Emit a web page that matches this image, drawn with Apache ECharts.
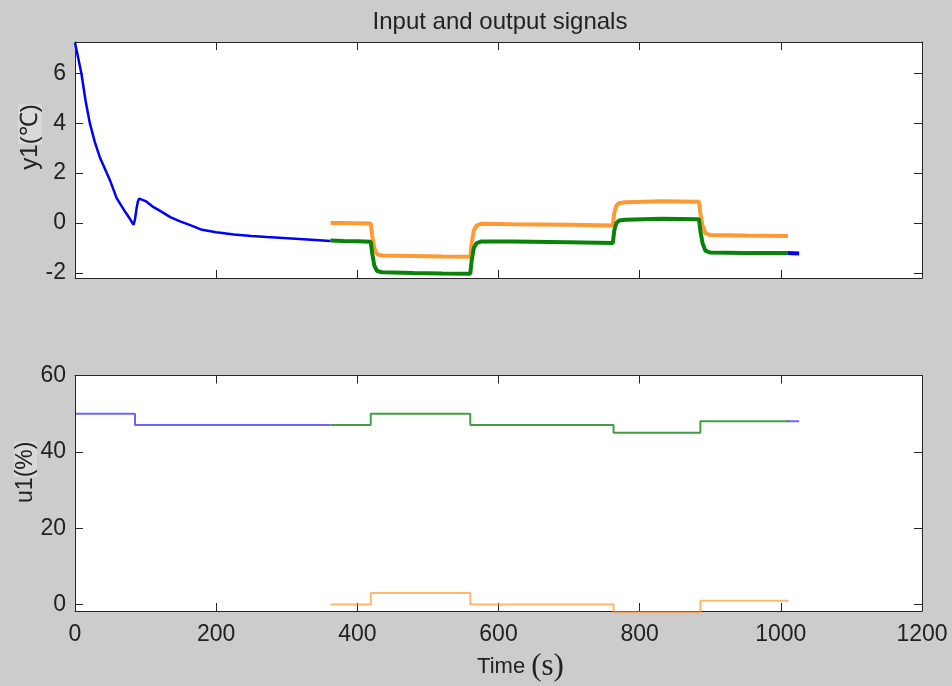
<!DOCTYPE html>
<html>
<head>
<meta charset="utf-8">
<script src="https://cdn.jsdelivr.net/npm/echarts@6/dist/echarts.min.js"></script>
<style>
html,body{margin:0;padding:0;background:#cccccc;}
#chart{width:952px;height:686px;}
</style>
</head>
<body>
<div id="chart"></div>
<script>
// ---- data ----
const xTicks = [0, 200, 400, 600, 800, 1000, 1200];
const yTopTicks = [-2, 0, 2, 4, 6];
const yBottomTicks = [0, 20, 40, 60];

// top panel: y1 (°C)
const topTimeBlue = [0, 5, 9, 15, 21, 28, 35, 45, 50, 59, 70, 78, 83, 85, 87, 89, 91, 93, 100, 110, 120, 135, 148, 165, 180, 200, 225, 250, 272, 295, 318, 340, 362];
const topBlue =     [7.22, 6.55, 6.0, 4.9, 4.0, 3.25, 2.65, 2.0, 1.68, 1.0, 0.5, 0.16, -0.07, 0.15, 0.55, 0.85, 0.98, 1.04, 0.88, 0.66, 0.5, 0.24, 0.08, -0.1, -0.27, -0.37, -0.46, -0.52, -0.56, -0.6, -0.64, -0.68, -0.72];
const topTimeRun = [362, 380, 400, 419, 421, 424, 428, 435, 480, 520, 560, 562, 565, 569, 575, 620, 700, 762, 764, 767, 771, 780, 830, 884, 886, 889, 893, 900, 950, 1010];
const topGreen =   [-0.7, -0.72, -0.73, -0.75, -1.2, -1.7, -1.92, -1.97, -2.0, -2.02, -2.03, -1.5, -1.0, -0.8, -0.74, -0.74, -0.77, -0.8, -0.3, 0.0, 0.1, 0.13, 0.17, 0.15, -0.3, -0.8, -1.1, -1.18, -1.2, -1.2];
const topOrange =  [0.0, 0.0, -0.01, -0.02, -0.5, -1.0, -1.25, -1.3, -1.32, -1.34, -1.35, -0.8, -0.3, -0.1, -0.03, -0.05, -0.07, -0.1, 0.4, 0.7, 0.8, 0.83, 0.87, 0.85, 0.4, -0.1, -0.4, -0.48, -0.5, -0.52];
const topTimeTail = [1010, 1026];
const topBlueTail = [-1.2, -1.22];

// bottom panel: u1 (%)
const uTimeBlue = [0, 85, 362];
const uBlue = [50, 47, 47];
const uTimeRun = [362, 419, 560, 763, 886, 1011];
const uGreen = [47, 50, 47, 45, 48, 48];
const uOrange = [0, 3, 0, -2, 1, 1];
const uTimeTail = [1010, 1026];
const uBlueTail = [48, 48];

const zip = (xs, ys) => xs.map((x, i) => [x, ys[i]]);

const AX = '#262626';
const FONT = '"Liberation Sans", Arial, Helvetica, sans-serif';

function xAxis(grid, pos, labels) {
  return {
    type: 'value', gridIndex: grid, position: pos, min: 0, max: 1200, interval: 200,
    axisLine: { show: true, onZero: false, lineStyle: { color: AX, width: 1 } },
    axisTick: { show: true, inside: true, length: 8, customValues: xTicks, lineStyle: { color: AX, width: 1 } },
    axisLabel: { show: labels, customValues: xTicks, formatter: v => String(v), color: '#222', fontSize: 23, fontFamily: FONT, margin: 12 },
    splitLine: { show: false }
  };
}
function yAxis(grid, pos, min, max, ticks, labels, extra) {
  return Object.assign({
    type: 'value', gridIndex: grid, position: pos, min: min, max: max,
    axisLine: { show: true, onZero: false, lineStyle: { color: AX, width: 1 } },
    axisTick: { show: true, inside: true, length: 8, customValues: ticks, lineStyle: { color: AX, width: 1 } },
    axisLabel: { show: labels, customValues: ticks, formatter: v => String(v), color: '#222', fontSize: 23, fontFamily: FONT, margin: 9 },
    splitLine: { show: false }
  }, extra || {});
}

const chart = echarts.init(document.getElementById('chart'), null, { renderer: 'canvas' });
const option = {
  animation: false,
  backgroundColor: '#cccccc',
  title: {
    text: 'Input and output signals',
    left: 495, top: 5, textAlign: 'center',
    textStyle: { color: '#222', fontSize: 24, fontWeight: 'normal', fontFamily: FONT }
  },
  grid: [
    { left: 75, width: 847, top: 42, height: 236, show: true, backgroundColor: '#ffffff', borderWidth: 0 },
    { left: 75, width: 847, top: 375.5, height: 235.5, show: true, backgroundColor: '#ffffff', borderWidth: 0 }
  ],
  xAxis: [
    xAxis(0, 'bottom', false),
    xAxis(0, 'top', false),
    Object.assign(xAxis(1, 'bottom', true), {
      name: '{t|Time }{s|(s)}', nameLocation: 'middle', nameGap: 40,
      nameTextStyle: {
        padding: [0, 0, 0, 44],
        rich: {
          t: { fontSize: 22, fontFamily: FONT, color: '#222' },
          s: { fontSize: 31, fontFamily: '"Liberation Serif", "Times New Roman", serif', color: '#222' }
        }
      }
    }),
    xAxis(1, 'top', false)
  ],
  yAxis: [
    yAxis(0, 'left', -2.2, 7.25, yTopTicks, true, {
      name: '{a|y1}{b|(℃)}', nameLocation: 'middle', nameGap: 33, nameMoveOverlap: false,
      nameTextStyle: {
        padding: [0, 0, 0, 46],
        rich: {
          a: { fontSize: 24, fontFamily: FONT, color: '#222' },
          b: { fontSize: 24, fontFamily: FONT, color: '#222', backgroundColor: '#d9d9d9' }
        }
      }
    }),
    yAxis(0, 'right', -2.2, 7.25, yTopTicks, false),
    yAxis(1, 'left', -1.7, 60, yBottomTicks, true, {
      name: '{a|u1}{b|(%)}', nameLocation: 'middle', nameGap: 38, nameMoveOverlap: false,
      nameTextStyle: {
        padding: [0, 0, 0, 42],
        rich: {
          a: { fontSize: 23, fontFamily: FONT, color: '#222' },
          b: { fontSize: 23, fontFamily: FONT, color: '#222', backgroundColor: '#d9d9d9' }
        }
      }
    }),
    yAxis(1, 'right', -1.7, 60, yBottomTicks, false)
  ],
  series: [
    { type: 'line', xAxisIndex: 0, yAxisIndex: 0, data: zip(topTimeBlue, topBlue), showSymbol: false, lineStyle: { color: '#0000ff', width: 2.5 } },
    { type: 'line', xAxisIndex: 0, yAxisIndex: 0, data: zip(topTimeRun, topOrange), showSymbol: false, lineStyle: { color: '#ff9933', width: 4 } },
    { type: 'line', xAxisIndex: 0, yAxisIndex: 0, data: zip(topTimeRun, topGreen), showSymbol: false, lineStyle: { color: '#0a820a', width: 4 } },
    { type: 'line', xAxisIndex: 0, yAxisIndex: 0, data: zip(topTimeTail, topBlueTail), showSymbol: false, lineStyle: { color: '#0000ff', width: 4 } },

    { type: 'line', xAxisIndex: 2, yAxisIndex: 2, data: zip(uTimeBlue, uBlue), step: 'end', showSymbol: false, lineStyle: { color: '#0000ff', width: 2, opacity: 0.6 } },
    { type: 'line', xAxisIndex: 2, yAxisIndex: 2, data: zip(uTimeRun, uGreen), step: 'end', showSymbol: false, lineStyle: { color: '#008000', width: 2, opacity: 0.75 } },
    { type: 'line', xAxisIndex: 2, yAxisIndex: 2, data: zip(uTimeRun, uOrange), step: 'end', showSymbol: false, clip: false, lineStyle: { color: '#ff9933', width: 2, opacity: 0.7 } },
    { type: 'line', xAxisIndex: 2, yAxisIndex: 2, data: zip(uTimeTail, uBlueTail), step: 'end', showSymbol: false, lineStyle: { color: '#0000ff', width: 2, opacity: 0.6 } }
  ]
};
chart.setOption(option);
</script>
</body>
</html>
